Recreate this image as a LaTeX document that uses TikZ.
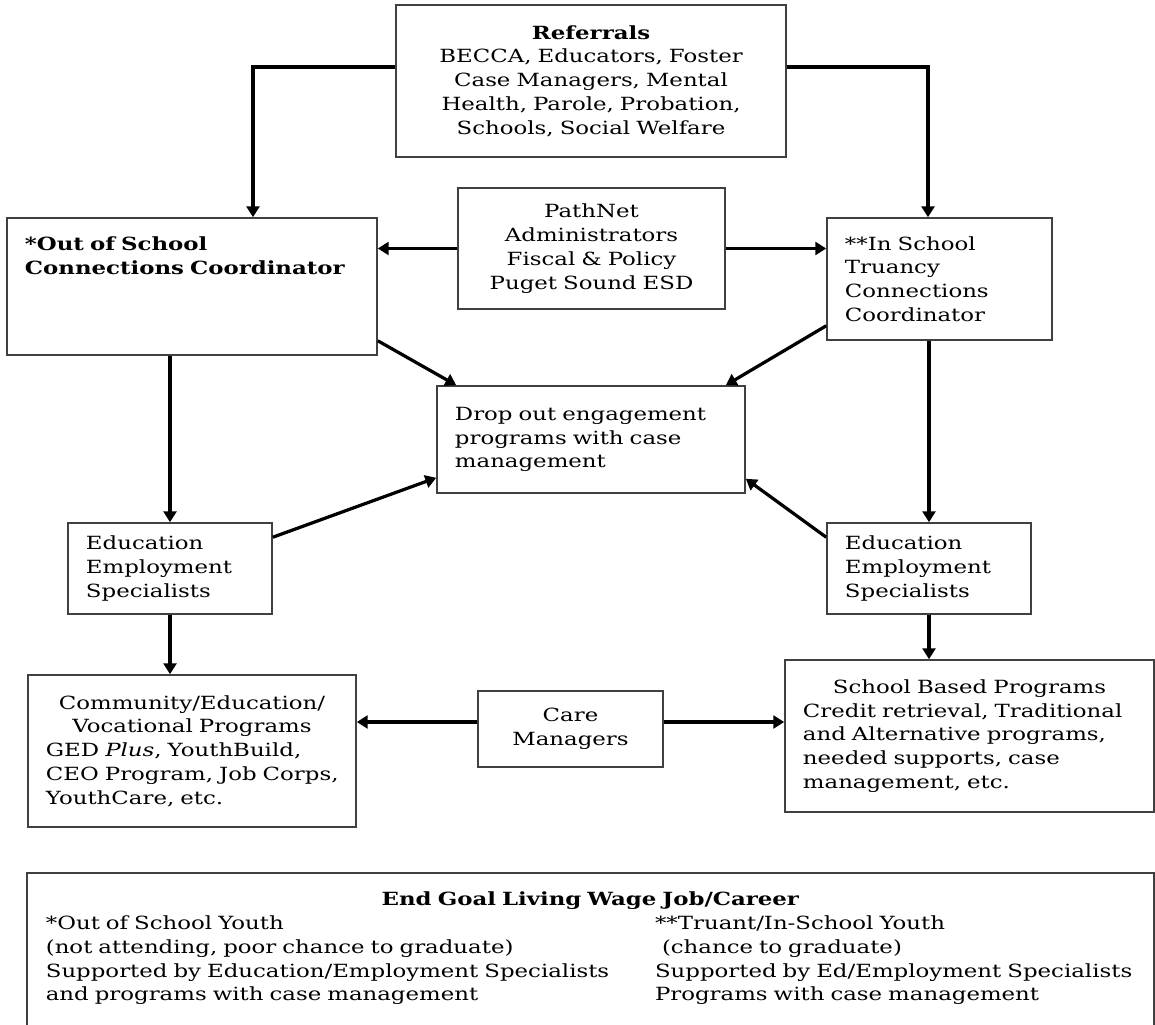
\documentclass[tikz,border=0pt]{standalone}
\usepackage{fontspec}
\setmainfont{DejaVu Serif}[FakeStretch=1.26]
\usetikzlibrary{arrows.meta}
\newcommand\boxfont{\fontsize{12.9}{16.9}\selectfont}
\newcommand\midline[1]{\hspace*{\fill}#1\hspace*{\fill}\mbox{}}
\definecolor{framegray}{gray}{0.25}
\tikzset{
    every node/.style={font=\boxfont},
    box/.style={draw=framegray, line width=1.1pt, inner xsep=0.45cm,
    	inner ysep=0pt},
    link/.style={line width=2.3pt, -{Triangle[length=0.27cm,width=0.32cm]}}
}

\begin{document}
\begin{tikzpicture}[x=0.025cm, y=-0.025cm]
	\path[use as bounding box, fill=white] (0,0) rectangle (1155,1024);

	\node (ref) [box, minimum width=9.75cm, minimum height=3.8cm,
		text width=8.85cm, align=center] at (591,81)
		{\textbf{Referrals}\\BECCA, Educators, Foster\\Case Managers, Mental\\
		Health, Parole, Probation,\\Schools, Social Welfare};
	\node (path) [box, minimum width=6.675cm, minimum height=3.025cm,
		text width=5.775cm, align=center] at (591.5,248.5)
		{PathNet\\Administrators\\Fiscal \& Policy\\Puget Sound ESD};
	\node (outsch) [box, minimum width=9.25cm, minimum height=3.425cm,
		text width=8.35cm, align=left, font=\boxfont\bfseries] at (192,286.5)
		{*Out of School\\\mbox{Connections Coordinator}\\[0.756cm]\strut};
	\node (insch) [box, minimum width=5.625cm, minimum height=3.05cm,
		text width=4.725cm, align=left] at (939.5,279)
		{**In School\\Truancy\\Connections\\Coordinator};
	\node (drop) [box, minimum width=7.7cm, minimum height=2.675cm,
		text width=6.8cm, align=left] at (591,439.5)
		{Drop out engagement\\programs with case\\management};
	\node (eesl) [box, minimum width=5.1cm, minimum height=2.275cm,
		text width=4.2cm, align=left] at (170,568.5)
		{Education\\Employment\\Specialists};
	\node (eesr) [box, minimum width=5.1cm, minimum height=2.275cm,
		text width=4.2cm, align=left] at (929,568.5)
		{Education\\Employment\\Specialists};
	\node (comm) [box, minimum width=8.2cm, minimum height=3.8cm,
		text width=7.3cm, align=left] at (192,751)
		{\midline{Community/Education/}\\
		\midline{Vocational Programs}\\
		\mbox{GED \textit{Plus}, YouthBuild,}\\\mbox{CEO Program, Job Corps,}\\
		YouthCare, etc.};
	\node (care) [box, minimum width=4.625cm, minimum height=1.9cm,
		text width=3.725cm, align=center] at (570.5,729)
		{Care\\Managers};
	\node (school) [box, minimum width=9.225cm, minimum height=3.8cm,
		text width=8.325cm, align=left] at (969.5,736)
		{\midline{School Based Programs}\\
		\mbox{Credit retrieval, Traditional}\\\mbox{and Alternative programs,}\\
		needed supports, case\\management, etc.};
	\node (goal) [box, minimum width=28.175cm, minimum height=4cm,
		inner xsep=0.475cm, text width=27.225cm, align=left] at (590.5,953)
		{\midline{\textbf{End Goal Living Wage Job/Career}}\\
		\makebox[15.225cm][l]{*Out of School Youth}**Truant/In-School Youth\\
		\makebox[15.225cm][l]{(not attending, poor chance to graduate)}%
		\hspace*{0.175cm}(chance to graduate)\\
		\makebox[15.225cm][l]{Supported by Education/Employment Specialists}%
		\mbox{Supported by Ed/Employment Specialists}\\
		\makebox[15.225cm][l]{and programs with case management}%
		Programs with case management\\[-0.444cm]\strut};

	% referrals go down to both coordinators
	\coordinate (refl) at (253,67);
	\coordinate (refr) at (928,67);
	\draw[link] (ref.west |- refl) -- (refl) -- (refl |- outsch.north);
	\draw[link] (ref.east |- refr) -- (refr) -- (refr |- insch.north);
	\draw[link] (path.west) -- (path.west -| outsch.east);
	\draw[link] (path.east) -- (path.east -| insch.west);

	\draw[link] ([yshift=0.375cm]outsch.south east)
		-- ([xshift=0.5cm]drop.north west);
	\draw[link] ([yshift=0.375cm]insch.south west)
		-- ([xshift=-0.5cm]drop.north east);
	\draw[link] ([yshift=-0.375cm]eesl.north east)
		-- ([yshift=0.4cm]drop.south west);
	\draw[link] ([yshift=-0.375cm]eesr.north west)
		-- ([yshift=0.375cm]drop.south east);

	\draw[link] (outsch.south -| eesl.north) -- (eesl.north);
	\draw[link] (insch.south -| eesr.north) -- (eesr.north);
	\draw[link] (eesl.south) -- (eesl.south |- comm.north);
	\draw[link] (eesr.south) -- (eesr.south |- school.north);
	\draw[link] ([yshift=0.175cm]care.west) -- ([yshift=0.175cm]care.west -| comm.east);
	\draw[link] ([yshift=0.175cm]care.east) -- ([yshift=0.175cm]care.east -| school.west);
\end{tikzpicture}
\end{document}
